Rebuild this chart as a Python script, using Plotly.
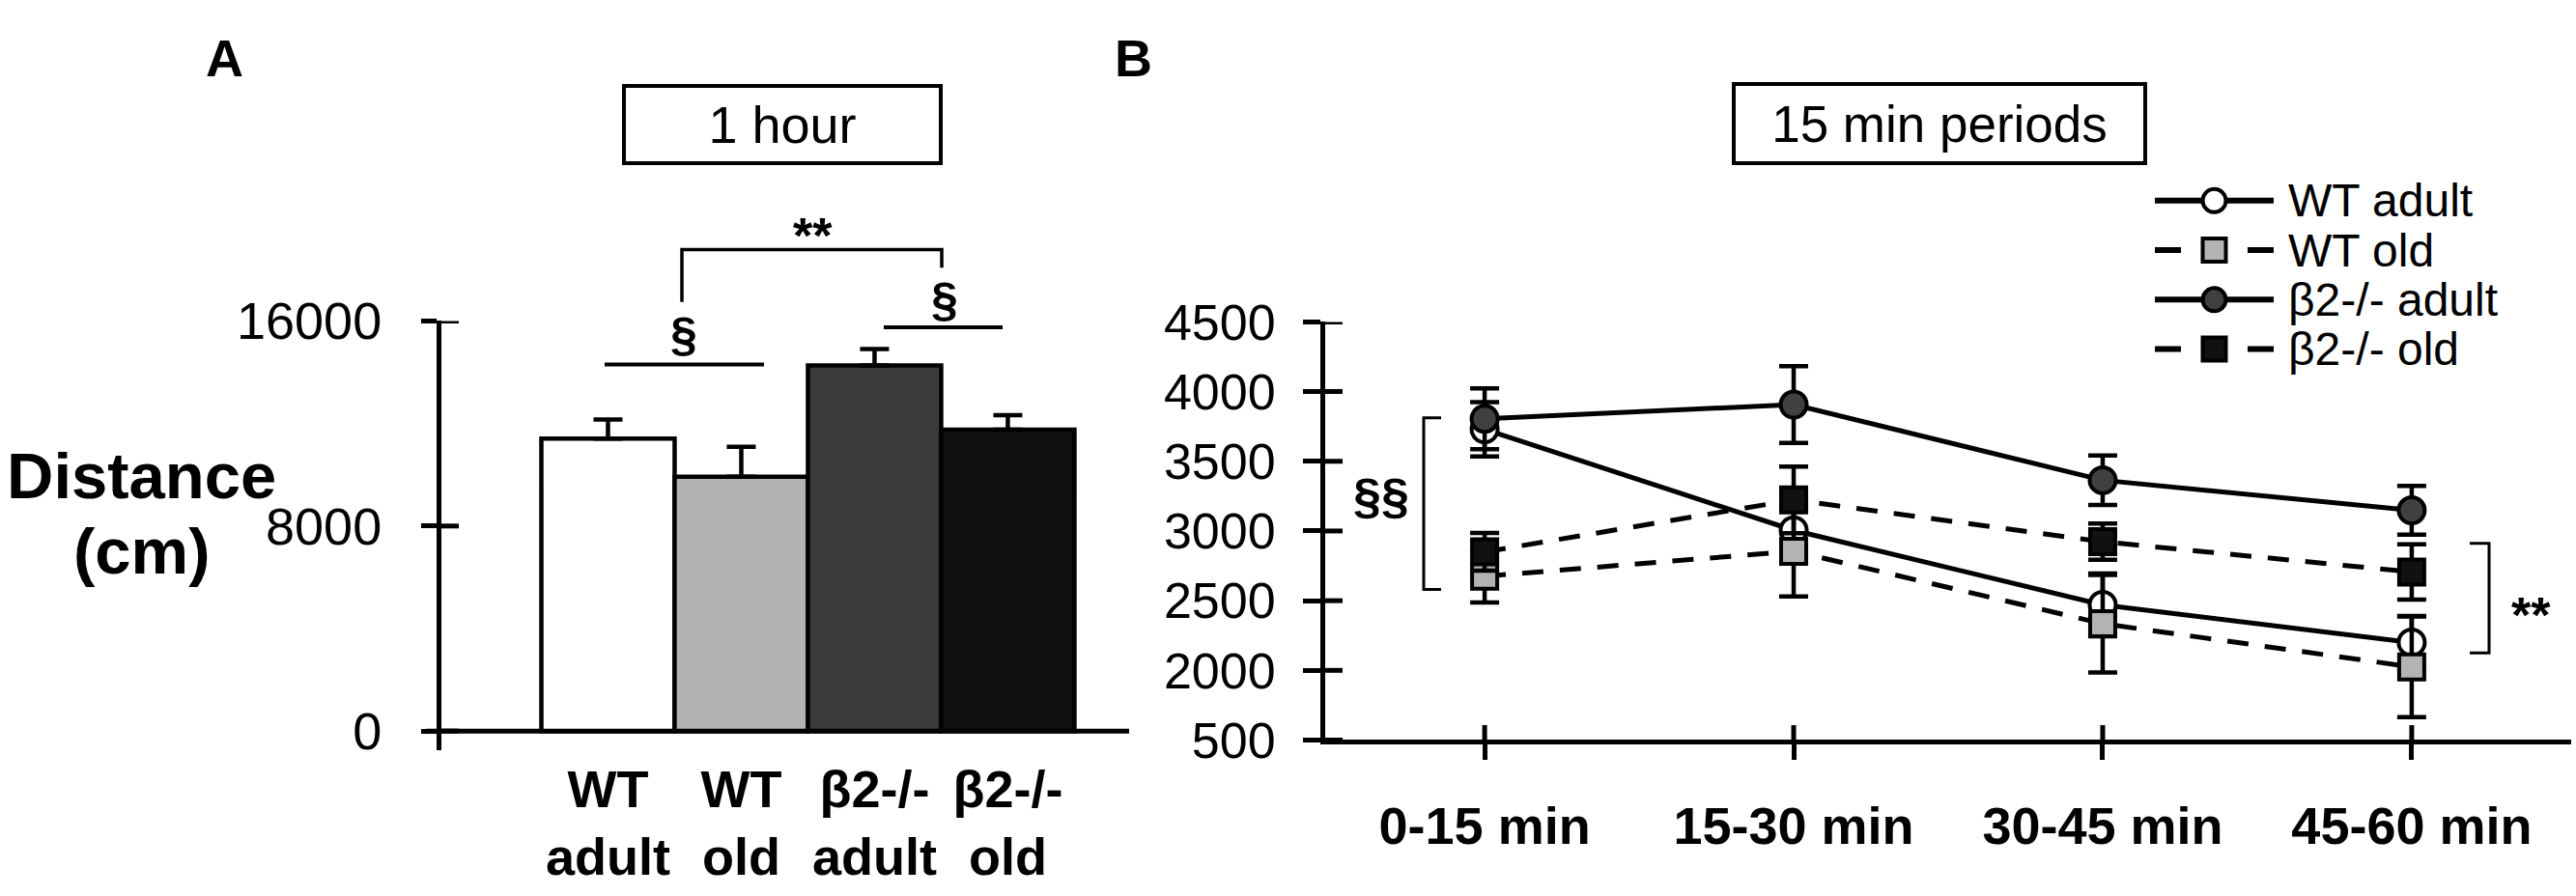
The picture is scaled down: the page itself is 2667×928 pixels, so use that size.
import plotly.graph_objects as go

W, H = 2667, 928

# panel A: total distance in 1 hour
groups = ["WT adult", "WT old", "β2-/- adult", "β2-/- old"]
group_labels = ["<b>WT<br>adult</b>", "<b>WT<br>old</b>", "<b>β2-/-<br>adult</b>", "<b>β2-/-<br>old</b>"]
hour_mean = [11410, 9925, 14270, 11760]
hour_sem = [742, 1165, 636, 565]
bar_colors = ["#ffffff", "#b2b2b2", "#3b3b3b", "#111111"]
a_ticks = [0, 8000, 16000]

# panel B: 15 min periods
periods = ["0-15 min", "15-30 min", "30-45 min", "45-60 min"]
wt_adult = [3730, 3005, 2470, 2200]
wt_adult_sem = [195, 150, 225, 190]
wt_old = [2675, 2855, 2335, 2025]
wt_old_sem = [188, 325, 350, 361]
b2_adult = [3805, 3907, 3364, 3148]
b2_adult_sem = [218, 275, 177, 175]
b2_old = [2850, 3223, 2923, 2706]
b2_old_sem = [135, 239, 130, 198]
b_ticks = [1500, 2000, 2500, 3000, 3500, 4000, 4500]
b_tick_text = ["500", "2000", "2500", "3000", "3500", "4000", "4500"]

FONT = "Liberation Sans, Arial, sans-serif"


def px(x):
    return x / W


def py(y):
    return 1 - y / H


fig = go.Figure()

fig.add_trace(go.Bar(
    x=groups, y=hour_mean, width=1,
    marker=dict(color=bar_colors, line=dict(color="black", width=4.5)),
    error_y=dict(type="data", array=hour_sem, symmetric=False, arrayminus=[0] * 4,
                 color="black", thickness=4.5, width=15),
    showlegend=False, xaxis="x", yaxis="y",
))

series = [
    ("WT adult", wt_adult, wt_adult_sem, "circle", "#ffffff", False),
    ("WT old", wt_old, wt_old_sem, "square", "#b3b3b3", True),
    ("β2-/- adult", b2_adult, b2_adult_sem, "circle", "#404040", False),
    ("β2-/- old", b2_old, b2_old_sem, "square", "#111111", True),
]
for name, vals, sem, sym, col, dashed in series:
    fig.add_trace(go.Scatter(
        x=periods, y=vals, name=name, mode="lines+markers",
        line=dict(color="black", width=5, dash="22px,17px" if dashed else "solid"),
        marker=dict(symbol=sym, size=27 if sym == "circle" else 26, color=col,
                    line=dict(color="black", width=4)),
        error_y=dict(type="data", array=sem, color="black", thickness=4.5, width=15),
        showlegend=False, xaxis="x2", yaxis="y2",
    ))

# hand-built legend on its own small axes, one row per series
ann = []
for i, (name, vals, sem, sym, col, dashed) in enumerate(series):
    fig.add_trace(go.Scatter(
        x=[0, 1], y=[i, i], mode="lines", hoverinfo="skip", showlegend=False,
        line=dict(color="black", width=6, dash="27px,69px" if dashed else "solid"),
        xaxis="x3", yaxis="y3",
    ))
    fig.add_trace(go.Scatter(
        x=[0.5], y=[i], mode="markers", hoverinfo="skip", showlegend=False,
        marker=dict(symbol=sym, size=24, color=col, line=dict(color="black", width=4)),
        xaxis="x3", yaxis="y3",
    ))
    ann.append(dict(x=px(2368), y=i, xref="paper", yref="y3", text=name, showarrow=False,
                    xanchor="left", yanchor="middle", borderpad=0,
                    font=dict(family=FONT, size=48, color="black")))

shapes = []
line_k = dict(color="black", width=4)
# x axis line of panel A (crosses the y axis)
shapes.append(dict(type="line", xref="paper", yref="y", x0=px(441), x1=px(1169), y0=0, y1=0,
                   line=dict(color="black", width=5)))
# inner halves of the crossing ticks
for v in a_ticks:
    shapes.append(dict(type="line", xref="paper", yref="y", x0=px(457), x1=px(475), y0=v, y1=v,
                       line=dict(color="black", width=5)))
for v in b_ticks:
    shapes.append(dict(type="line", xref="paper", yref="y2", x0=px(1372), x1=px(1390), y0=v, y1=v,
                       line=dict(color="black", width=5)))
for p in periods:
    shapes.append(dict(type="line", xref="x2", yref="paper", x0=p, x1=p, y0=py(786), y1=py(770),
                       line=dict(color="black", width=5)))

# significance marks, panel A
shapes.append(dict(type="line", xref="paper", yref="paper", x0=px(626), x1=px(791), y0=py(371), y1=py(371), line=line_k))
shapes.append(dict(type="line", xref="paper", yref="paper", x0=px(915), x1=px(1038), y0=py(330), y1=py(330), line=line_k))
shapes.append(dict(type="path", xref="paper", yref="paper",
                   path=f"M {px(706)},{py(302)} L {px(706)},{py(244)} L {px(975)},{py(244)} L {px(975)},{py(264)}",
                   line=dict(color="black", width=3.5)))
# significance brackets, panel B
shapes.append(dict(type="path", xref="paper", yref="paper",
                   path=f"M {px(1492)},{py(430)} L {px(1474)},{py(430)} L {px(1474)},{py(620)} L {px(1492)},{py(620)}",
                   line=dict(color="black", width=3)))
shapes.append(dict(type="path", xref="paper", yref="paper",
                   path=f"M {px(2557)},{py(569)} L {px(2577)},{py(569)} L {px(2577)},{py(690)} L {px(2557)},{py(690)}",
                   line=dict(color="black", width=3)))


def text(x, y, s, size=52, bold=False, **kw):
    ann.append(dict(x=px(x), y=py(y), xref="paper", yref="paper", text=f"<b>{s}</b>" if bold else s,
                    showarrow=False, xanchor="center", yanchor="middle",
                    font=dict(family=FONT, size=size, color="black"), **kw))


text(232, 32, "A", 54, True)
text(1173, 32, "B", 54, True)
text(146, 494, "Distance", 67, True)
text(146, 577, "(cm)", 67, True)
text(841, 229, "**", 52, True)
text(708, 338, "§", 50, True)
text(978, 300, "§", 50, True)
text(1430, 517, "§§", 52, True)
text(2620, 648, "**", 52, True)
text(810, 106, "1 hour", 54, False, bordercolor="black", borderwidth=4, borderpad=0,
     width=324, height=76, bgcolor="white")
text(2008, 105, "15 min periods", 53, False, bordercolor="black", borderwidth=4, borderpad=0,
     width=422, height=78, bgcolor="white")

fig.update_layout(
    width=W, height=H,
    margin=dict(l=0, r=0, t=0, b=0),
    paper_bgcolor="white", plot_bgcolor="white",
    font=dict(family=FONT, color="black"),
    xaxis=dict(domain=[px(457), px(1169)], range=[-1.25, 3.91], tickvals=groups, ticktext=group_labels,
               showline=False, ticks="", showgrid=False, zeroline=False,
               tickfont=dict(family=FONT, size=54, color="black"), ticklabelstandoff=4),
    yaxis=dict(domain=[py(798), py(323)], range=[-758, 16000], tickvals=a_ticks,
               ticktext=[str(v) for v in a_ticks], showline=True, linecolor="black", linewidth=5,
               ticks="outside", ticklen=16, tickwidth=5, tickcolor="black", showgrid=False, zeroline=False,
               tickfont=dict(family=FONT, size=54, color="black"), ticklabelstandoff=30),
    xaxis2=dict(domain=[px(1372), px(2662)], range=[-0.516, 3.516], anchor="y2",
                tickvals=periods, ticktext=[f"<b>{p}</b>" for p in periods],
                showline=True, linecolor="black", linewidth=5, ticks="outside", ticklen=16, tickwidth=5,
                tickcolor="black", showgrid=False, zeroline=False,
                tickfont=dict(family=FONT, size=54, color="black"), ticklabelstandoff=22),
    yaxis2=dict(domain=[py(786.5), py(324)], range=[1500, 4500], anchor="x2",
                tickvals=b_ticks, ticktext=b_tick_text, showline=True, linecolor="black", linewidth=5,
                ticks="outside", ticklen=18, tickwidth=5, tickcolor="black", showgrid=False, zeroline=False,
                tickfont=dict(family=FONT, size=52, color="black"), ticklabelstandoff=18),
    xaxis3=dict(domain=[px(2231), px(2354)], range=[0, 1], visible=False, fixedrange=True),
    yaxis3=dict(domain=[py(381.5), py(162.5)], range=[3.5, -0.5], visible=False, fixedrange=True,
                anchor="x3"),
    showlegend=False,
    shapes=shapes, annotations=ann,
)

fig.write_html("out.html", config={"displayModeBar": False},
               post_script="document.body.style.margin='0';")
